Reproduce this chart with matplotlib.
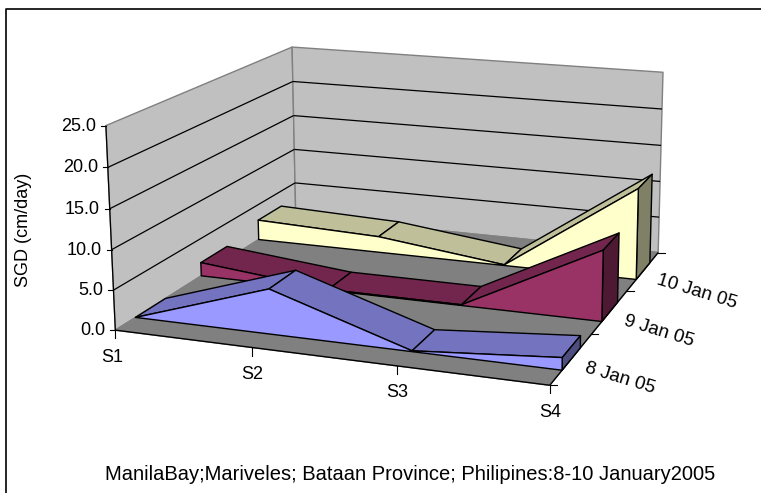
import numpy as np
import matplotlib
matplotlib.use('Agg')
import matplotlib.pyplot as plt
from matplotlib.patches import Polygon

plt.rcParams['font.family'] = ['Liberation Sans', 'DejaVu Sans']

stations = ['S1', 'S2', 'S3', 'S4']
days = ['8 Jan 05', '9 Jan 05', '10 Jan 05']
value_ticks = [0, 5, 10, 15, 20, 25]
sgd_8jan = [0.0, 5.6, 0.1, 1.5]
sgd_9jan = [1.8, 0.1, 0.1, 9.0]
sgd_10jan = [2.8, 2.2, 0.1, 12.2]

# front, top, end face colours per day
face_colours = [('#9999FF', '#7373BF', '#4D4D80'),
                ('#993366', '#73264D', '#4D1933'),
                ('#FFFFCC', '#BFBF99', '#808066')]

# the chart box corners as seen on screen: (station, depth, value) -> pixel
box_3d = np.array([(0, 0, 0), (0, 0, 25), (0, 3, 0), (0, 3, 25), (3, 3, 0), (3, 3, 25), (3, 0, 0)], float)
box_px = np.array([(115, 330), (106, 126), (296, 216), (292, 47), (658, 253), (663, 72), (550, 385)], float)


def fit_camera(pts, px):
    rows = []
    for (x, d, v), (u, w) in zip(pts, px):
        rows.append([x, d, v, 1, 0, 0, 0, 0, -u * x, -u * d, -u * v, -u])
        rows.append([0, 0, 0, 0, x, d, v, 1, -w * x, -w * d, -w * v, -w])
    return np.linalg.svd(np.array(rows))[2][-1].reshape(3, 4)


camera = fit_camera(box_3d, box_px)


def project(x, d, v):
    p = camera @ np.array([x, d, v, 1.0])
    return p[0] / p[2], p[1] / p[2]


fig = plt.figure(figsize=(7.61, 4.93), dpi=100)
ax = fig.add_axes([0, 0, 1, 1])
ax.set_xlim(0, 761)
ax.set_ylim(493, 0)
ax.axis('off')


def face(corners, fc, ec='black', lw=1.0, z=2):
    ax.add_patch(Polygon([project(*c) for c in corners], closed=True, fc=fc, ec=ec, lw=lw, joinstyle='round', zorder=z))


def line3d(a, b, c='black', lw=1.0, z=3):
    pa, pb = project(*a), project(*b)
    ax.plot([pa[0], pb[0]], [pa[1], pb[1]], color=c, lw=lw, zorder=z, solid_capstyle='butt')


# chart frame, only left and top are inside the picture
ax.plot([6, 6, 761], [493, 8.5, 8.5], color='black', lw=1.2)

# walls and floor
face([(0, 0, 0), (0, 0, 25), (0, 3, 25), (0, 3, 0)], '#C0C0C0', ec='#808080', z=1)
face([(0, 3, 0), (0, 3, 25), (3, 3, 25), (3, 3, 0)], '#C0C0C0', ec='#808080', z=1)
face([(0, 0, 0), (3, 0, 0), (3, 3, 0), (0, 3, 0)], '#808080', ec='#808080', z=1.5)

# gridlines
for v in value_ticks[1:-1]:
    line3d((0, 0, v), (0, 3, v), lw=0.9, z=1.2)
    line3d((0, 3, v), (3, 3, v), lw=0.9, z=1.2)

# axis lines and ticks
line3d((0, 0, 0), (0, 0, 25), lw=0.9, z=1.8)
line3d((0, 0, 0), (3, 0, 0), z=1.8)
line3d((3, 0, 0), (3, 3, 0), z=1.8)
for v in value_ticks:
    u, w = project(0, 0, v)
    ax.plot([u - 5, u], [w, w], color='black', lw=0.8)
    ax.text(u - 10, w + 0.5, '%.1f' % v, ha='right', va='center', fontsize=13)
for i, s in enumerate(stations):
    u, w = project(i, 0, 0)
    ax.plot([u, u], [w, w + 8], color='black', lw=0.8)
    ax.text(u + (-3 if i == 0 else 0), w + 27, s, ha='center', va='center', fontsize=13)
for i in range(4):
    u, w = project(3, i, 0)
    ax.plot([u, u + 7], [w, w], color='black', lw=0.8)
for i, day in enumerate(days):
    u, w = project(3, i + 0.5, 0)
    ax.text(u + 14, w + 9, day, ha='left', va='center', rotation=-17, rotation_mode='anchor', fontsize=13.5)

# ribbons, back to front
for i, vals in reversed(list(enumerate([sgd_8jan, sgd_9jan, sgd_10jan]))):
    front, top, end = face_colours[i]
    d0, d1 = i + 0.28, i + 0.72
    z = 4 + (2 - i)
    for s in range(3):
        face([(s, d0, vals[s]), (s, d1, vals[s]), (s + 1, d1, vals[s + 1]), (s + 1, d0, vals[s + 1])], top, z=z)
    face([(3, d0, 0), (3, d1, 0), (3, d1, vals[3]), (3, d0, vals[3])], end, z=z)
    outline = [(s, d0, vals[s]) for s in range(4)] + [(3, d0, 0), (0, d0, 0)]
    face(outline, front, z=z)

ax.text(24, 230, 'SGD (cm/day)', rotation=90, ha='center', va='center', fontsize=13)
ax.text(410, 474, 'ManilaBay;Mariveles; Bataan Province; Philipines:8-10 January2005',
        ha='center', va='center', fontsize=14.5)

fig.savefig('out.png', dpi=100)
